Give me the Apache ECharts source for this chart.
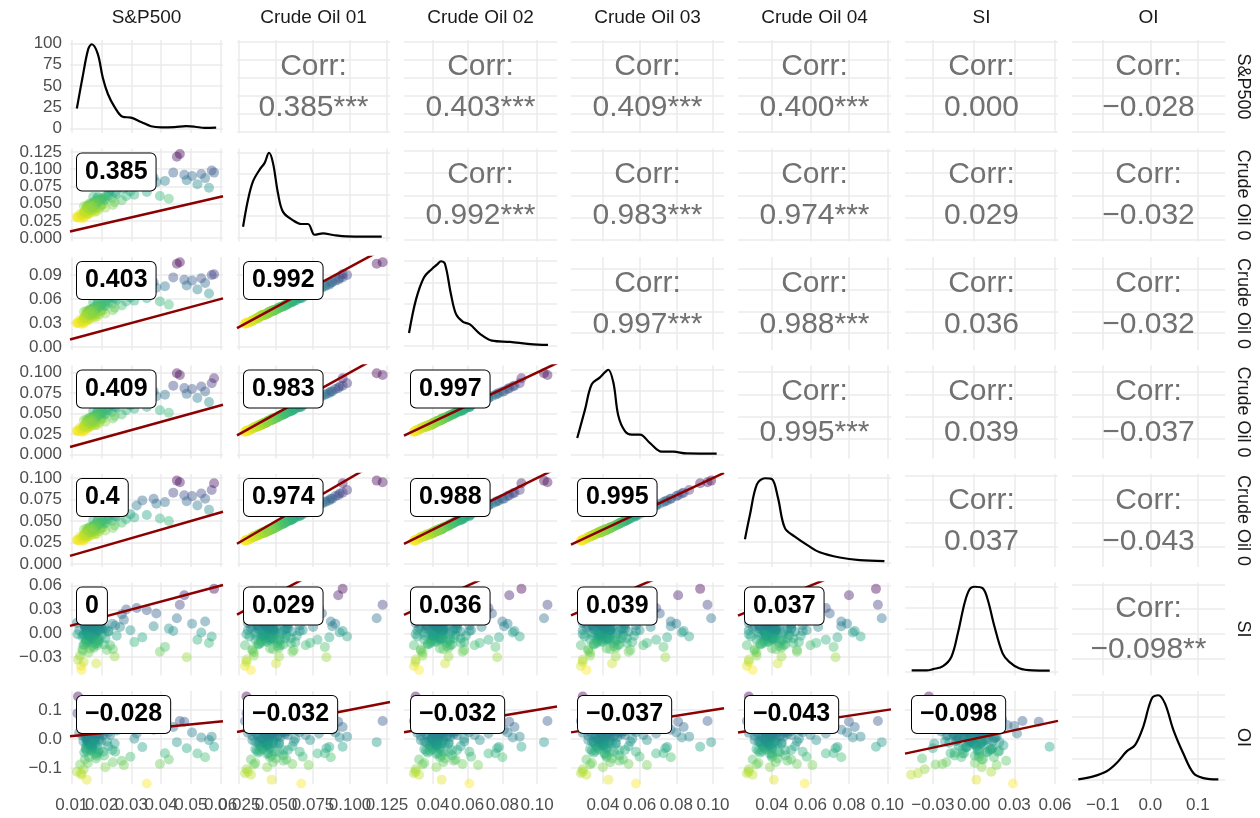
<!DOCTYPE html>
<html>
<head>
<meta charset="utf-8">
<script src="https://cdn.jsdelivr.net/npm/echarts@6/dist/echarts.min.js"></script>
<style>
  html, body { margin: 0; background: #fff; }
  #chart { width: 1260px; height: 818px; }
</style>
</head>
<body>
<div id="chart"></div>
<script>
// variable names (strips)
const varNames = ['S&P500', 'Crude Oil 01', 'Crude Oil 02', 'Crude Oil 03', 'Crude Oil 04', 'SI', 'OI'];

// observations, one array per variable (same order)
const sp = [
  0.0125, 0.0148, 0.0162, 0.0171, 0.0155, 0.0139, 0.0183, 0.0166, 0.0152, 0.0119,
  0.0158, 0.0172, 0.0144, 0.0161, 0.0189, 0.0135, 0.0176, 0.0165, 0.0149, 0.0128,
  0.0169, 0.0153, 0.0181, 0.0163, 0.0140, 0.0195, 0.0158, 0.0117, 0.0174, 0.0160,
  0.0147, 0.0166, 0.0178, 0.0137, 0.0186, 0.0154, 0.0170, 0.0131, 0.0199, 0.0162,
  0.0192, 0.0205, 0.0188, 0.0213, 0.0201, 0.0184, 0.0218, 0.0196, 0.0209, 0.0224,
  0.0121, 0.0143, 0.0167, 0.0151, 0.0179, 0.0133, 0.0159, 0.0174, 0.0146, 0.0185,
  0.0236, 0.0251, 0.0268, 0.0229, 0.0283, 0.0297, 0.0244, 0.0262, 0.0310, 0.0275,
  0.0157, 0.0168, 0.0141, 0.0182, 0.0163, 0.0177, 0.0150, 0.0172, 0.0193, 0.0238,
  0.0318, 0.0337, 0.0352, 0.0375, 0.0396, 0.0413, 0.0441, 0.0453, 0.0463, 0.0478,
  0.0486, 0.0504, 0.0522, 0.0535, 0.0548, 0.0561, 0.0570, 0.0578, 0.0426, 0.0384,
  0.0156, 0.0164, 0.0171, 0.0149, 0.0160, 0.0177, 0.0143, 0.0168, 0.0153, 0.0182,
  0.0139, 0.0174, 0.0161, 0.0150, 0.0186, 0.0165, 0.0145, 0.0158, 0.0170, 0.0204,
  0.0162, 0.0147, 0.0179, 0.0155, 0.0168, 0.0191, 0.0136, 0.0173, 0.0159, 0.0222,
  0.0151, 0.0166, 0.0142, 0.0175, 0.0163, 0.0154, 0.0187, 0.0169, 0.0213, 0.0246
];
const co1 = [
  0.031, 0.036, 0.041, 0.045, 0.038, 0.029, 0.047, 0.043, 0.034, 0.030,
  0.044, 0.049, 0.033, 0.046, 0.052, 0.032, 0.040, 0.048, 0.042, 0.035,
  0.045, 0.039, 0.054, 0.037, 0.030, 0.056, 0.046, 0.031, 0.043, 0.050,
  0.041, 0.047, 0.044, 0.034, 0.058, 0.036, 0.051, 0.029, 0.048, 0.042,
  0.053, 0.049, 0.060, 0.044, 0.057, 0.039, 0.062, 0.047, 0.055, 0.066,
  0.030, 0.037, 0.040, 0.045, 0.043, 0.033, 0.048, 0.052, 0.039, 0.045,
  0.058, 0.064, 0.055, 0.070, 0.061, 0.068, 0.052, 0.075, 0.063, 0.072,
  0.035, 0.044, 0.046, 0.050, 0.041, 0.038, 0.047, 0.060, 0.043, 0.048,
  0.079, 0.086, 0.067, 0.088, 0.061, 0.083, 0.095, 0.118, 0.122, 0.092,
  0.084, 0.090, 0.078, 0.093, 0.087, 0.073, 0.098, 0.095, 0.057, 0.081,
  0.043, 0.045, 0.047, 0.040, 0.044, 0.049, 0.037, 0.046, 0.041, 0.051,
  0.036, 0.050, 0.042, 0.039, 0.053, 0.044, 0.038, 0.041, 0.046, 0.058,
  0.045, 0.040, 0.048, 0.043, 0.047, 0.055, 0.034, 0.044, 0.049, 0.061,
  0.042, 0.046, 0.038, 0.048, 0.041, 0.044, 0.052, 0.045, 0.056, 0.066
];
const co2 = [
  0.031, 0.035, 0.040, 0.043, 0.036, 0.029, 0.045, 0.041, 0.033, 0.030,
  0.042, 0.046, 0.032, 0.044, 0.049, 0.031, 0.039, 0.045, 0.040, 0.034,
  0.043, 0.038, 0.050, 0.036, 0.030, 0.052, 0.044, 0.030, 0.041, 0.047,
  0.040, 0.045, 0.042, 0.033, 0.054, 0.035, 0.048, 0.029, 0.046, 0.040,
  0.050, 0.046, 0.056, 0.042, 0.053, 0.038, 0.058, 0.045, 0.051, 0.061,
  0.030, 0.036, 0.039, 0.043, 0.041, 0.032, 0.046, 0.049, 0.038, 0.043,
  0.054, 0.059, 0.052, 0.064, 0.057, 0.062, 0.049, 0.068, 0.058, 0.066,
  0.034, 0.042, 0.044, 0.047, 0.040, 0.037, 0.045, 0.056, 0.041, 0.046,
  0.072, 0.078, 0.061, 0.081, 0.057, 0.076, 0.087, 0.104, 0.106, 0.084,
  0.077, 0.083, 0.072, 0.086, 0.080, 0.067, 0.090, 0.091, 0.053, 0.074,
  0.041, 0.043, 0.045, 0.039, 0.042, 0.046, 0.036, 0.044, 0.040, 0.048,
  0.035, 0.047, 0.040, 0.038, 0.050, 0.042, 0.037, 0.040, 0.044, 0.054,
  0.043, 0.039, 0.045, 0.041, 0.045, 0.051, 0.033, 0.042, 0.046, 0.056,
  0.040, 0.044, 0.037, 0.045, 0.040, 0.042, 0.049, 0.043, 0.052, 0.061
];
const co3 = [
  0.029, 0.033, 0.037, 0.041, 0.035, 0.028, 0.042, 0.039, 0.032, 0.029,
  0.040, 0.044, 0.031, 0.042, 0.046, 0.030, 0.036, 0.043, 0.038, 0.033,
  0.041, 0.035, 0.048, 0.034, 0.029, 0.050, 0.042, 0.029, 0.039, 0.045,
  0.037, 0.043, 0.041, 0.032, 0.052, 0.034, 0.046, 0.028, 0.044, 0.039,
  0.048, 0.044, 0.053, 0.040, 0.051, 0.036, 0.055, 0.043, 0.049, 0.058,
  0.029, 0.034, 0.037, 0.041, 0.039, 0.031, 0.044, 0.047, 0.036, 0.041,
  0.052, 0.057, 0.049, 0.062, 0.054, 0.060, 0.047, 0.066, 0.056, 0.064,
  0.033, 0.040, 0.042, 0.045, 0.038, 0.036, 0.043, 0.053, 0.039, 0.044,
  0.069, 0.075, 0.058, 0.077, 0.054, 0.073, 0.084, 0.099, 0.097, 0.081,
  0.074, 0.080, 0.069, 0.083, 0.077, 0.064, 0.087, 0.093, 0.051, 0.071,
  0.039, 0.041, 0.043, 0.037, 0.040, 0.044, 0.034, 0.042, 0.038, 0.046,
  0.034, 0.045, 0.038, 0.036, 0.048, 0.040, 0.035, 0.038, 0.042, 0.052,
  0.041, 0.037, 0.043, 0.039, 0.043, 0.049, 0.032, 0.040, 0.044, 0.054,
  0.038, 0.042, 0.035, 0.044, 0.038, 0.040, 0.047, 0.041, 0.050, 0.058
];
const co4 = [
  0.028, 0.032, 0.036, 0.039, 0.034, 0.027, 0.040, 0.037, 0.031, 0.028,
  0.038, 0.042, 0.030, 0.040, 0.044, 0.029, 0.035, 0.041, 0.036, 0.032,
  0.039, 0.034, 0.046, 0.033, 0.028, 0.048, 0.040, 0.028, 0.038, 0.043,
  0.036, 0.041, 0.039, 0.031, 0.050, 0.033, 0.044, 0.027, 0.042, 0.037,
  0.046, 0.043, 0.051, 0.039, 0.049, 0.035, 0.053, 0.041, 0.047, 0.056,
  0.028, 0.033, 0.036, 0.039, 0.038, 0.030, 0.042, 0.045, 0.035, 0.040,
  0.050, 0.055, 0.048, 0.060, 0.052, 0.058, 0.045, 0.064, 0.054, 0.061,
  0.032, 0.038, 0.040, 0.043, 0.037, 0.035, 0.041, 0.051, 0.038, 0.042,
  0.068, 0.074, 0.057, 0.076, 0.053, 0.072, 0.083, 0.097, 0.095, 0.080,
  0.073, 0.079, 0.068, 0.082, 0.076, 0.063, 0.086, 0.094, 0.050, 0.070,
  0.037, 0.039, 0.041, 0.036, 0.038, 0.042, 0.033, 0.040, 0.036, 0.044,
  0.033, 0.043, 0.037, 0.035, 0.046, 0.039, 0.034, 0.037, 0.040, 0.050,
  0.039, 0.036, 0.041, 0.037, 0.041, 0.047, 0.031, 0.038, 0.042, 0.052,
  0.037, 0.040, 0.034, 0.042, 0.037, 0.039, 0.045, 0.040, 0.048, 0.056
];
const si = [
  0.004, -0.008, 0.012, -0.002, 0.006, -0.015, 0.001, -0.005, 0.009, -0.001,
  -0.011, 0.003, 0.007, -0.019, 0.010, -0.004, 0.016, -0.007, 0.002, -0.028,
  0.008, -0.013, -0.001, 0.019, -0.036, 0.005, -0.009, 0.013, -0.003, 0.000,
  0.014, -0.006, 0.004, -0.022, 0.011, 0.001, -0.016, -0.041, 0.007, -0.003,
  -0.008, 0.018, -0.012, 0.006, -0.002, 0.022, -0.021, 0.009, -0.014, 0.003,
  -0.033, 0.010, -0.005, 0.015, -0.010, -0.046, 0.005, -0.018, 0.021, -0.007,
  0.012, -0.003, 0.024, -0.015, 0.030, 0.004, -0.029, 0.008, -0.011, 0.017,
  -0.024, 0.006, -0.001, -0.038, 0.013, -0.013, 0.002, -0.006, 0.011, -0.020,
  0.032, -0.005, 0.029, 0.009, -0.023, -0.017, 0.003, 0.019, 0.036, 0.048,
  -0.030, 0.012, -0.008, 0.001, 0.015, -0.012, -0.004, 0.056, 0.006, 0.025,
  0.002, -0.004, 0.007, -0.009, 0.005, -0.001, 0.011, -0.006, 0.003, -0.012,
  -0.002, 0.008, -0.007, 0.004, -0.015, 0.001, 0.009, -0.003, 0.013, 0.006,
  0.006, -0.011, 0.000, 0.010, -0.005, 0.003, -0.020, 0.014, -0.008, 0.002,
  -0.001, 0.012, -0.014, 0.004, -0.003, 0.017, -0.009, 0.007, -0.006, 0.010
];
const oi = [
  0.021, -0.035, 0.048, 0.005, -0.012, 0.062, -0.058, 0.030, -0.004, 0.088,
  -0.024, 0.041, -0.071, 0.012, -0.046, 0.033, 0.003, 0.072, -0.019, -0.088,
  0.055, -0.008, 0.025, -0.041, -0.104, 0.017, -0.063, -0.113, 0.038, -0.015,
  -0.031, 0.009, -0.052, 0.046, 0.027, -0.083, 0.064, -0.118, -0.006, 0.019,
  0.007, -0.044, 0.034, -0.097, 0.051, -0.022, -0.009, 0.076, -0.057, 0.023,
  0.146, 0.058, -0.027, 0.003, 0.094, -0.123, 0.040, -0.013, 0.068, -0.049,
  -0.038, 0.029, -0.075, 0.014, 0.045, -0.061, -0.016, 0.082, 0.001, -0.090,
  0.026, -0.012, 0.097, -0.067, -0.036, 0.011, -0.140, 0.053, -0.002, -0.080,
  0.019, -0.028, -0.153, 0.032, -0.086, -0.049, 0.041, -0.011, 0.062, 0.059,
  -0.032, 0.022, -0.050, 0.005, -0.063, -0.004, 0.008, -0.027, -0.071, 0.047,
  0.012, -0.006, 0.024, 0.031, -0.018, 0.004, 0.016, -0.028, 0.036, 0.009,
  -0.009, 0.027, 0.006, -0.041, 0.019, -0.021, 0.043, 0.001, -0.034, 0.014,
  0.028, 0.002, -0.015, 0.021, 0.052, -0.039, 0.011, -0.007, 0.030, -0.025,
  -0.002, 0.037, -0.047, 0.018, -0.011, 0.008, 0.044, -0.020, 0.025, -0.044
];

// density curves
const spDensX = [0.0117, 0.0136, 0.0155, 0.0167, 0.0187, 0.0204, 0.0221, 0.0243, 0.0271, 0.0299, 0.0333, 0.0366, 0.0400, 0.0445, 0.0485, 0.0513, 0.0547, 0.0585];
const spDensY = [23.8, 60, 93, 99, 88, 60, 41, 26, 14, 13, 8, 3, 1.7, 2, 3, 2.4, 1, 1.3];
const co1DensX = [0.0277, 0.0310, 0.0344, 0.0389, 0.0423, 0.0452, 0.0479, 0.0513, 0.0547, 0.0615, 0.0671, 0.0716, 0.0761, 0.0818, 0.0886, 0.0976, 0.1110, 0.1214];
const co1DensY = [0.125, 0.44, 0.66, 0.80, 0.88, 1.0, 0.88, 0.52, 0.30, 0.20, 0.157, 0.157, 0.03, 0.047, 0.027, 0.01, 0.008, 0.008];
const co2DensX = [0.0262, 0.0302, 0.0348, 0.0394, 0.0423, 0.0446, 0.0469, 0.0504, 0.0533, 0.0573, 0.0613, 0.0671, 0.0740, 0.0844, 0.0960, 0.1063];
const co2DensY = [0.15, 0.54, 0.80, 0.90, 0.95, 0.99, 0.96, 0.60, 0.37, 0.28, 0.25, 0.14, 0.06, 0.045, 0.02, 0.01];
const co3DensX = [0.0260, 0.0302, 0.0339, 0.0384, 0.0411, 0.0429, 0.0457, 0.0484, 0.0520, 0.0557, 0.0602, 0.0657, 0.0720, 0.0783, 0.0857, 0.1020];
const co3DensY = [0.19, 0.52, 0.82, 0.90, 0.96, 0.99, 0.84, 0.45, 0.27, 0.23, 0.23, 0.13, 0.03, 0.03, 0.01, 0.008];
const co4DensX = [0.0260, 0.0286, 0.0322, 0.0364, 0.0400, 0.0431, 0.0467, 0.0519, 0.0586, 0.0648, 0.0752, 0.0855, 0.0984];
const co4DensY = [0.27, 0.55, 0.90, 0.97, 0.96, 0.75, 0.40, 0.30, 0.20, 0.12, 0.06, 0.03, 0.02];
const siDensX = [-0.0456, -0.0346, -0.0298, -0.0225, -0.0163, -0.0115, -0.0066, -0.0029, 0.0007, 0.0068, 0.0104, 0.0153, 0.0214, 0.0263, 0.0336, 0.0434, 0.0561];
const siDensY = [0.01, 0.01, 0.025, 0.06, 0.17, 0.45, 0.80, 0.96, 0.99, 0.97, 0.84, 0.53, 0.21, 0.11, 0.035, 0.01, 0.008];
const oiDensX = [-0.1517, -0.120, -0.092, -0.071, -0.050, -0.0324, -0.0149, 0.0028, 0.0167, 0.0308, 0.0483, 0.0693, 0.0904, 0.1115, 0.143];
const oiDensY = [0.005, 0.04, 0.10, 0.198, 0.336, 0.41, 0.63, 0.96, 1.0, 0.90, 0.59, 0.31, 0.08, 0.02, 0.005];

// correlation texts
const corrUpper = [
  [null, '0.385***', '0.403***', '0.409***', '0.400***', '0.000', '\u22120.028'],
  [null, null, '0.992***', '0.983***', '0.974***', '0.029', '\u22120.032'],
  [null, null, null, '0.997***', '0.988***', '0.036', '\u22120.032'],
  [null, null, null, null, '0.995***', '0.039', '\u22120.037'],
  [null, null, null, null, null, '0.037', '\u22120.043'],
  [null, null, null, null, null, null, '\u22120.098**']
];
const corrLower = [
  [],
  ['0.385'],
  ['0.403', '0.992'],
  ['0.409', '0.983', '0.997'],
  ['0.4', '0.974', '0.988', '0.995'],
  ['0', '0.029', '0.036', '0.039', '0.037'],
  ['\u22120.028', '\u22120.032', '\u22120.032', '\u22120.037', '\u22120.043', '\u22120.098']
];

// axis ranges and breaks
const colRange = [[0.0094, 0.0608], [0.0236, 0.127], [0.0233, 0.1115], [0.0226, 0.106], [0.0224, 0.1018], [-0.0505, 0.0622], [-0.165, 0.157]];
const colBreaks = [
  [0.01, 0.02, 0.03, 0.04, 0.05, 0.06],
  [0.025, 0.05, 0.075, 0.1, 0.125],
  [0.04, 0.06, 0.08, 0.1],
  [0.04, 0.06, 0.08, 0.1],
  [0.04, 0.06, 0.08, 0.1],
  [-0.03, 0, 0.03, 0.06],
  [-0.1, 0, 0.1]
];
const colLabels = [
  ['0.01', '0.02', '0.03', '0.04', '0.05', '0.06'],
  ['0.025', '0.050', '0.075', '0.100', '0.125'],
  ['0.04', '0.06', '0.08', '0.10'],
  ['0.04', '0.06', '0.08', '0.10'],
  ['0.04', '0.06', '0.08', '0.10'],
  ['\u22120.03', '0.00', '0.03', '0.06'],
  ['\u22120.1', '0.0', '0.1']
];
const rowRange = [null, [-0.005, 0.130], [-0.0037, 0.1125], [-0.0046, 0.1085], [-0.0035, 0.1047], [-0.053, 0.064], [-0.155, 0.165]];
const rowBreaks = [
  [0, 25, 50, 75, 100],
  [0, 0.025, 0.05, 0.075, 0.1, 0.125],
  [0, 0.03, 0.06, 0.09],
  [0, 0.025, 0.05, 0.075, 0.1],
  [0, 0.025, 0.05, 0.075, 0.1],
  [-0.03, 0, 0.03, 0.06],
  [-0.1, 0, 0.1]
];
const rowLabels = [
  ['0', '25', '50', '75', '100'],
  ['0.000', '0.025', '0.050', '0.075', '0.100', '0.125'],
  ['0.00', '0.03', '0.06', '0.09'],
  ['0.000', '0.025', '0.050', '0.075', '0.100'],
  ['0.000', '0.025', '0.050', '0.075', '0.100'],
  ['\u22120.03', '0.00', '0.03', '0.06'],
  ['\u22120.1', '0.0', '0.1']
];

const viridisRev = ['#FDE725', '#B5DE2B', '#6ECE58', '#35B779', '#1F9E89', '#26828E', '#31688E', '#3E4989', '#482878', '#440154'];

const vars = [sp, co1, co2, co3, co4, si, oi];
const dens = [[spDensX, spDensY], [co1DensX, co1DensY], [co2DensX, co2DensY], [co3DensX, co3DensY],
              [co4DensX, co4DensY], [siDensX, siDensY], [oiDensX, oiDensY]];

const PL = 70, PT = 40, PW = 153, PH = 93, SX = 167, SY = 108.5;
const FONT = '"Liberation Sans", Arial, Helvetica, sans-serif';

const grids = [], xAxes = [], yAxes = [], series = [], visualMaps = [], elements = [];
const extraX = [];
const gridLine = {show: true, lineStyle: {color: '#EBEBEB', width: 1.5}};

// labelVals: the break values that get a label on this axis (ticks/grid use all breaks)
function makeAxis(k, range, breaks, labels, showLabel, isX, labelVals, showGrid) {
  return {
    type: 'value', gridIndex: k, min: range[0], max: range[1],
    position: isX ? 'bottom' : 'left',
    axisLine: {show: false},
    axisTick: {show: false, customValues: breaks},
    axisLabel: {
      show: showLabel, customValues: labelVals || breaks, color: '#4D4D4D', fontSize: 17, fontFamily: FONT,
      margin: isX ? 13 : 8, hideOverlap: false, showMinLabel: true, showMaxLabel: true,
      formatter: function (v) {
        const idx = breaks.findIndex(b => Math.abs(b - v) < 1e-9);
        return idx >= 0 ? labels[idx] : '';
      }
    },
    splitLine: showGrid === false ? {show: false} : gridLine
  };
}

for (let i = 0; i < 7; i++) {
  for (let j = 0; j < 7; j++) {
    const k = i * 7 + j;
    const left = PL + j * SX, top = PT + i * SY;
    grids.push({left: left, top: top, width: PW, height: PH});
    const showX = (i === 6);
    const showY = (j === 0);
    if (showX) {
      // bottom row: split labels over two axes so neighbouring labels may overlap like the original
      const b = colBreaks[j];
      const even = b.filter((v, n) => n % 2 === 0), odd = b.filter((v, n) => n % 2 === 1);
      xAxes.push(makeAxis(k, colRange[j], b, colLabels[j], true, true, even));
      extraX.push(makeAxis(k, colRange[j], b, colLabels[j], true, true, odd, false));
    } else {
      xAxes.push(makeAxis(k, colRange[j], colBreaks[j], colLabels[j], false, true));
    }

    if (i === j) {
      // diagonal: density
      const dx = dens[i][0], dy = dens[i][1];
      const m = Math.max(...dy);
      const yb = i === 0 ? rowBreaks[0] : [0, 0.25 * m, 0.5 * m, 0.75 * m, m];
      yAxes.push(makeAxis(k, [-0.05 * m, 1.05 * m], yb, rowLabels[0], showY, false));
      series.push({
        type: 'line', xAxisIndex: k, yAxisIndex: k, smooth: 0.35, showSymbol: false, silent: true,
        lineStyle: {color: '#000', width: 2.2},
        data: dx.map((x, n) => [x, dy[n]])
      });
    } else if (i < j) {
      // upper: correlation text
      yAxes.push(makeAxis(k, colRange[i], colBreaks[i], colLabels[i], false, false));
      const cx = left + PW / 2, cy = top + PH / 2;
      elements.push({type: 'text', x: cx, y: cy - 20, z: 50,
        style: {text: 'Corr:', font: '30px ' + FONT, fill: '#717171', align: 'center', verticalAlign: 'middle',
                textAlign: 'center', textVerticalAlign: 'middle'}});
      elements.push({type: 'text', x: cx, y: cy + 21, z: 50,
        style: {text: corrUpper[i][j], font: '30px ' + FONT, fill: '#717171', align: 'center', verticalAlign: 'middle',
                textAlign: 'center', textVerticalAlign: 'middle'}});
    } else {
      // lower: scatter + y = x line + label
      yAxes.push(makeAxis(k, rowRange[i], rowBreaks[i], rowLabels[i], showY, false));
      const xs = vars[j], ys = vars[i];
      series.push({
        type: 'scatter', xAxisIndex: k, yAxisIndex: k, symbolSize: 10, silent: true, clip: true,
        itemStyle: {opacity: 0.42},
        data: xs.map((x, n) => [x, ys[n]])
      });
      visualMaps.push({
        type: 'continuous', show: false, seriesIndex: series.length - 1, dimension: 1,
        min: Math.min(...ys), max: Math.max(...ys), inRange: {color: viridisRev}
      });
      const r = colRange[j];
      series.push({
        type: 'line', xAxisIndex: k, yAxisIndex: k, showSymbol: false, silent: true, clip: true, z: 5,
        lineStyle: {color: '#8B0000', width: 2.5},
        data: [[r[0], r[0]], [r[1], r[1]]]
      });
      elements.push({type: 'text', x: left + 7, y: top + 5, z: 60,
        style: {text: corrLower[i][j], font: 'bold 25px ' + FONT, fill: '#000', align: 'left', verticalAlign: 'top',
                textAlign: 'left', textVerticalAlign: 'top', lineHeight: 27,
                backgroundColor: '#fff', borderColor: '#000', borderWidth: 1, borderRadius: 5, padding: [5, 8]}});
    }
  }
}

// strip labels
for (let j = 0; j < 7; j++) {
  elements.push({type: 'text', x: PL + j * SX + PW / 2, y: 18, z: 60,
    style: {text: varNames[j], font: '19px ' + FONT, fill: '#1A1A1A', align: 'center', verticalAlign: 'middle',
            textAlign: 'center', textVerticalAlign: 'middle'}});
}
for (let i = 0; i < 7; i++) {
  elements.push({type: 'text', x: 1243, y: PT + i * SY + PH / 2, rotation: -Math.PI / 2, z: 60,
    style: {text: varNames[i], font: '18px ' + FONT, fill: '#1A1A1A', align: 'center', verticalAlign: 'middle',
            textAlign: 'center', textVerticalAlign: 'middle', width: 94, overflow: 'truncate', ellipsis: ''}});
}

const chart = echarts.init(document.getElementById('chart'), null, {renderer: 'canvas'});
chart.setOption({
  backgroundColor: '#fff',
  animation: false,
  grid: grids,
  xAxis: xAxes.concat(extraX),
  yAxis: yAxes,
  visualMap: visualMaps,
  series: series,
  graphic: {elements: elements}
});
</script>
</body>
</html>
